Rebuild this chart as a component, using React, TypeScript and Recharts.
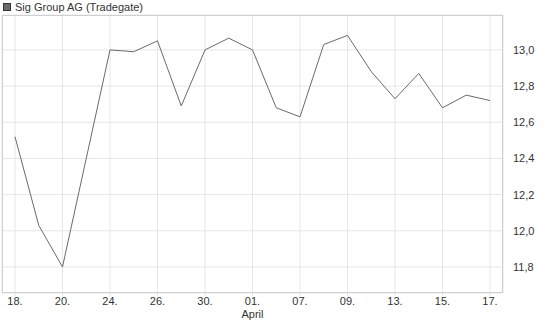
import { CartesianGrid, Line, LineChart, XAxis, YAxis } from 'recharts'

const DAYS = [
  '18.', '19.', '20.', '23.', '24.', '25.', '26.', '27.', '30.', '31.',
  '01.', '02.', '07.', '08.', '09.', '10.', '13.', '14.', '15.', '16.', '17.',
]
const PRICES = [
  12.52, 12.03, 11.8, 12.4, 13.0, 12.99, 13.05, 12.69, 13.0, 13.065,
  13.0, 12.68, 12.63, 13.03, 13.08, 12.88, 12.73, 12.87, 12.68, 12.75, 12.72,
]
const Y_TICKS = [11.8, 12.0, 12.2, 12.4, 12.6, 12.8, 13.0]
const MONTH_MARK = { day: '01.', label: 'April' }

const data = DAYS.map((d, i) => ({ day: d, kurs: PRICES[i] }))

const GRID = '#e6e6e6'
const BORDER = '#cfcfcf'
const TEXT = '#333'
const FONT = '"Liberation Sans", Arial, sans-serif'

function DayTick({ x, y, payload }: { x: number; y: number; payload: { value: string } }) {
  return (
    <g>
      <text x={x} y={y} dy="0.71em" textAnchor="middle" fontSize={11} fill={TEXT} fontFamily={FONT}>
        {payload.value}
      </text>
      {payload.value === MONTH_MARK.day && (
        <text x={x} y={y + 13} dy="0.71em" textAnchor="middle" fontSize={11} fill={TEXT} fontFamily={FONT}>
          {MONTH_MARK.label}
        </text>
      )}
    </g>
  )
}

export default function App() {
  return (
    <div style={{ position: 'absolute', left: 0, top: 0, width: 545, height: 327, fontFamily: FONT }}>
      <LineChart width={545} height={327} data={data} margin={{ top: 15, right: 0, left: 2, bottom: 0 }}>
        <CartesianGrid stroke={GRID} />
        <XAxis
          dataKey="day"
          interval={1}
          height={34}
          padding={{ left: 13, right: 13 }}
          axisLine={false}
          tickLine={{ stroke: GRID }}
          tickSize={3}
          tickMargin={1}
          tick={DayTick}
        />
        <YAxis
          orientation="right"
          width={42}
          domain={[11.656, 13.193]}
          ticks={Y_TICKS}
          axisLine={false}
          tickLine={false}
          tickMargin={4}
          tickFormatter={(v: number) => v.toFixed(1).replace('.', ',')}
          tick={{ fontSize: 11, fill: TEXT, fontFamily: FONT, textAnchor: 'start' }}
        />
        <Line
          type="linear"
          dataKey="kurs"
          stroke="#6a6a6a"
          strokeWidth={1}
          dot={false}
          isAnimationActive={false}
        />
      </LineChart>
      <div
        style={{
          position: 'absolute', left: 2, top: 15, width: 501, height: 278,
          border: `1px solid ${BORDER}`, boxSizing: 'border-box', pointerEvents: 'none',
        }}
      />
      <div style={{ position: 'absolute', left: 3, top: 1, display: 'flex', alignItems: 'center', fontSize: 11, color: TEXT }}>
        <span style={{ width: 8, height: 8, background: '#6a6a6a', border: '1px solid #333', boxSizing: 'border-box', marginRight: 4 }} />
        Sig Group AG (Tradegate)
      </div>
    </div>
  )
}
